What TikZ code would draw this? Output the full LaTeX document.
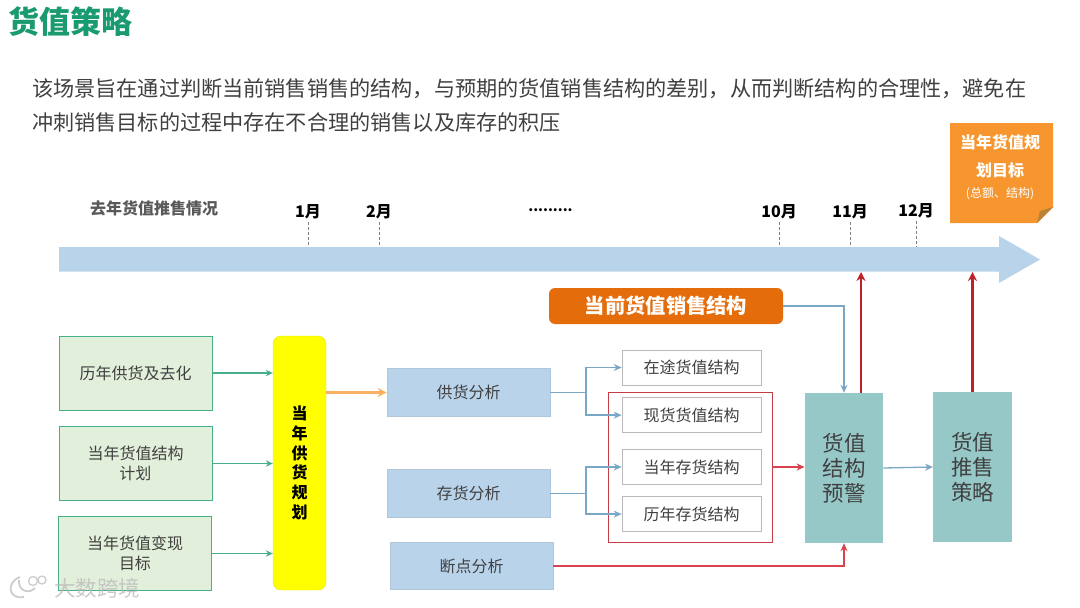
\documentclass[tikz,border=0pt]{standalone}
\usepackage{fontspec}
\setmainfont{Noto Sans CJK SC}
\usepackage{tikz}
\usetikzlibrary{positioning, arrows.meta}

\definecolor{titlegreen}{HTML}{1A9A70}
\definecolor{bodygray}{HTML}{404040}
\definecolor{bargblue}{HTML}{B9D3EA}
\definecolor{linkblue}{HTML}{7BA7C7}
\definecolor{notefill}{HTML}{F7962E}
\definecolor{notefold}{HTML}{B98235}
\definecolor{pillfill}{HTML}{E46C0A}
\definecolor{greenfill}{HTML}{E2EFDA}
\definecolor{greenline}{HTML}{45B08A}
\definecolor{tealfill}{HTML}{96C8C8}
\definecolor{redline}{HTML}{C0202A}
\definecolor{softred}{HTML}{D9434E}
\definecolor{planyellow}{HTML}{FFFF00}

\begin{document}
\begin{tikzpicture}[x=1pt, y=-1pt, >=Stealth, node distance=17pt,
    txt/.style={font=\fontsize{16}{20}\selectfont, text=bodygray, align=center, inner sep=0pt},
    month/.style={font=\fontsize{16}{20}\selectfont\bfseries, text=black, inner sep=0pt},
    tick/.style={densely dashed, gray, line width=0.4pt},
    srcbox/.style={txt, rectangle, draw=greenline, fill=greenfill, line width=0.8pt, minimum width=153pt, minimum height=74pt},
    anabox/.style={txt, rectangle, draw=bargblue!85!gray, fill=bargblue, line width=0.6pt, minimum width=163pt, minimum height=47.5pt},
    resbox/.style={txt, rectangle, draw=gray!55, fill=white, line width=0.6pt, minimum width=139pt, minimum height=35pt},
    bigbox/.style={rectangle, fill=tealfill, minimum width=78.5pt, minimum height=150pt, inner sep=0pt, align=center,
      text=black!75, font=\fontsize{21.5}{25}\selectfont},
    greenarrow/.style={-{Stealth[length=7pt, width=6.5pt]}, draw=greenline, line width=1.1pt},
    bluearrow/.style={-{Stealth[length=8pt, width=7pt]}, draw=linkblue, line width=1.3pt},
    redarrow/.style={-{Stealth[length=8pt, width=7pt]}, draw=softred, line width=1.3pt},
    uparrow/.style={-{Stealth[length=9pt, width=9pt]}, draw=redline, line width=2.4pt}]
  \useasboundingbox (0,0) rectangle (1080,608);

  % heading
  \node[anchor=west, inner sep=0pt, text=titlegreen, font=\fontsize{31}{36}\selectfont\bfseries] (title) at (8,22) {货值策略};
  \node[anchor=west, inner sep=0pt, text=bodygray, align=left, font=\fontsize{21.15}{34}\selectfont] (intro) at (32,105)
    {该场景旨在通过判断当前销售销售的结构，与预期的货值销售结构的差别，从而判断结构的合理性，避免在\\
     冲刺销售目标的过程中存在不合理的销售以及库存的积压};

  % timeline
  \fill[bargblue] (59,247) -- (999,247) -- (999,236) -- (1040,259.5) -- (999,283) -- (999,271.5) -- (59,271.5) -- cycle;
  \node[inner sep=0pt, text=black!65, font=\fontsize{16}{20}\selectfont\bfseries] (last) at (154,208) {去年货值推售情况};
  \node[month] (m1)  at (308,212) {1月};
  \node[month] (m2)  at (379,212) {2月};
  \node[month, font=\fontsize{14}{20}\selectfont\bfseries] (dots) at (550.5,210) {.........};
  \node[month] (m10) at (779,212) {10月};
  \node[month] (m11) at (850,212) {11月};
  \node[month] (m12) at (916,211) {12月};
  \coordinate (barTop) at (59,247);
  \foreach \m in {m1,m2,m10,m11,m12}
    \draw[tick] ([yshift=-3pt]\m.south) -- (\m |- barTop);

  % target note
  \fill[notefill] (950,123) -- (1053,123) -- (1053,207) -- (1037,223) -- (950,223) -- cycle;
  \fill[notefold] (1053,207) -- (1037,223) -- (1040,211) -- cycle;
  \node[inner sep=0pt, text=white, align=center, font=\fontsize{16}{28}\selectfont\bfseries] (goal) at (1000,156) {当年货值规\\划目标};
  \node[inner sep=0pt, text=white, font=\fontsize{12}{14}\selectfont] (goalsub) at (1000,194) {(总额、结构)};

  % left column
  \node[srcbox] (g1) at (135.5,373) {历年供货及去化};
  \node[srcbox] (g2) at (135.5,463.5) {当年货值结构\\计划};
  \node[srcbox] (g3) at (135,553.5) {当年货值变现\\目标};
  \node[rectangle, rounded corners=8pt, draw=planyellow!90!black, fill=planyellow, minimum width=53pt, minimum height=254pt, inner sep=0pt,
    align=center, font=\fontsize{16}{19.8}\selectfont\bfseries] (plan) at (299.5,463) {当\\年\\供\\货\\规\\划};
  \draw[greenarrow] (g1.east) -- (g1.east -| plan.west);
  \draw[greenarrow] (g2.east) -- (g2.east -| plan.west);
  \draw[greenarrow] (g3.east) -- (g3.east -| plan.west);

  % analysis
  \node[anabox] (sup) at (468.5,392.5) {供货分析};
  \node[anabox] (inv) at (468.5,493.5) {存货分析};
  \node[anabox] (brk) at (471.5,566) {断点分析};
  \draw[-{Stealth[length=9pt, width=9pt]}, draw=notefill!75, line width=3pt] (sup.west -| plan.east) -- (sup.west);

  % results
  \node[rectangle, draw=softred!90!black, line width=0.8pt, minimum width=164pt, minimum height=150pt, inner sep=0pt] (frame) at (690,467) {};
  \node[resbox] (road) at (691.5,367.5) {在途货值结构};
  \node[resbox] (spot) [below=12pt of road] {现货货值结构};
  \node[resbox] (curr) at (691.5,467) {当年存货结构};
  \node[resbox] (hist) [below=11.5pt of curr] {历年存货结构};
  \coordinate (j1) at (586,392.5);
  \coordinate (j2) at (586,493.5);
  \draw[bluearrow] (sup.east) -- (j1) |- (road.west);
  \draw[bluearrow] (sup.east) -- (j1) |- (spot.west);
  \draw[bluearrow] (inv.east) -- (j2) |- (curr.west);
  \draw[bluearrow] (inv.east) -- (j2) |- (hist.west);

  % warning and strategy
  \node[bigbox] (warn) at (844,468) {货值\\结构\\预警};
  \node[bigbox] (strat) at (972.5,467) {货值\\推售\\策略};
  \node[rectangle, rounded corners=6pt, fill=pillfill, text=white, minimum width=234pt, minimum height=36pt, inner sep=0pt,
    font=\fontsize{20.3}{24}\selectfont\bfseries] (cur) at (666,306) {当前货值销售结构};
  \coordinate (t1) at (861,272);
  \draw[bluearrow] (cur.east) -| (warn.north);
  \draw[redarrow] (frame.east) -- (frame.east -| warn.west);
  \draw[redarrow] (brk.east) -| (warn.south);
  \draw[bluearrow] (warn.east) -- (strat.west);
  \draw[uparrow] (t1 |- warn.north) -- (t1);
  \draw[uparrow] (strat.north) -- (strat.north |- t1);

  % watermark
  \node[inner sep=0pt, text=gray!55, opacity=0.75, font=\fontsize{21.5}{24}\selectfont] (mark) at (97,588) {大数跨境};
  \draw[gray!40, line width=1.8pt] (20,577) .. controls (6,582) and (8,600) .. (24,597);
  \draw[gray!40, line width=1.8pt] (19,580) .. controls (18,592) and (30,594) .. (35,588);
  \draw[gray!40, line width=1.3pt] (33,581) circle (4.5pt) (42,580) circle (4pt);
\end{tikzpicture}
\end{document}
